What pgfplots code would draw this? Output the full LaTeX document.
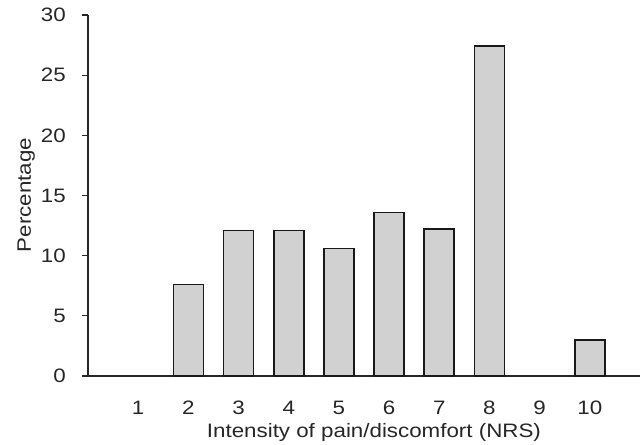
\documentclass[border=0pt]{standalone}
\usepackage{pgfplots}
\pgfplotsset{compat=1.18}
\usepackage{fontspec}
\setmainfont{Liberation Sans}[FakeStretch=1.15]
\newcommand{\chartfont}{\fontsize{19.5}{23}\selectfont}
\begin{document}
\begin{tikzpicture}
% fixed page frame around the axis box
\useasboundingbox (-88bp,-69bp) rectangle (554bp,376bp);
\begin{axis}[
  at={(0,0)}, anchor=south west,
  scale only axis, width=552bp, height=361bp,
  xmin=0, xmax=11, ymin=0, ymax=30,
  axis x line*=bottom, axis y line*=left,
  axis line style={line width=1.3pt, black!85},
  xtick={1,...,10}, ytick={0,5,...,30},
  x tick style={draw=none},
  y tick style={line width=1.3pt, black!85},
  tick align=outside, major tick length=6bp,
  /pgf/number format/assume math mode=true,
  tick label style={font=\chartfont, text=black!85, inner sep=0pt},
  x tick label style={anchor=base, yshift=-32bp},
  y tick label style={anchor=east, xshift=-16bp},
  xlabel={Intensity of pain/discomfort (NRS)},
  ylabel={Percentage},
  label style={font=\chartfont, text=black!85, inner sep=0pt},
  xlabel style={at={(axis description cs:0.518,-0.169)}, anchor=base},
  ylabel style={at={(axis description cs:-0.1033,0.501)}, anchor=base},
  ybar, bar width=30bp,
]
\addplot[fill=black!18, draw=black!90, line width=1.6pt]
  coordinates {(2,7.6) (3,12.1) (4,12.1) (5,10.6) (6,13.6) (7,12.2) (8,27.4) (10,3.0)};
\end{axis}
\end{tikzpicture}
\end{document}
